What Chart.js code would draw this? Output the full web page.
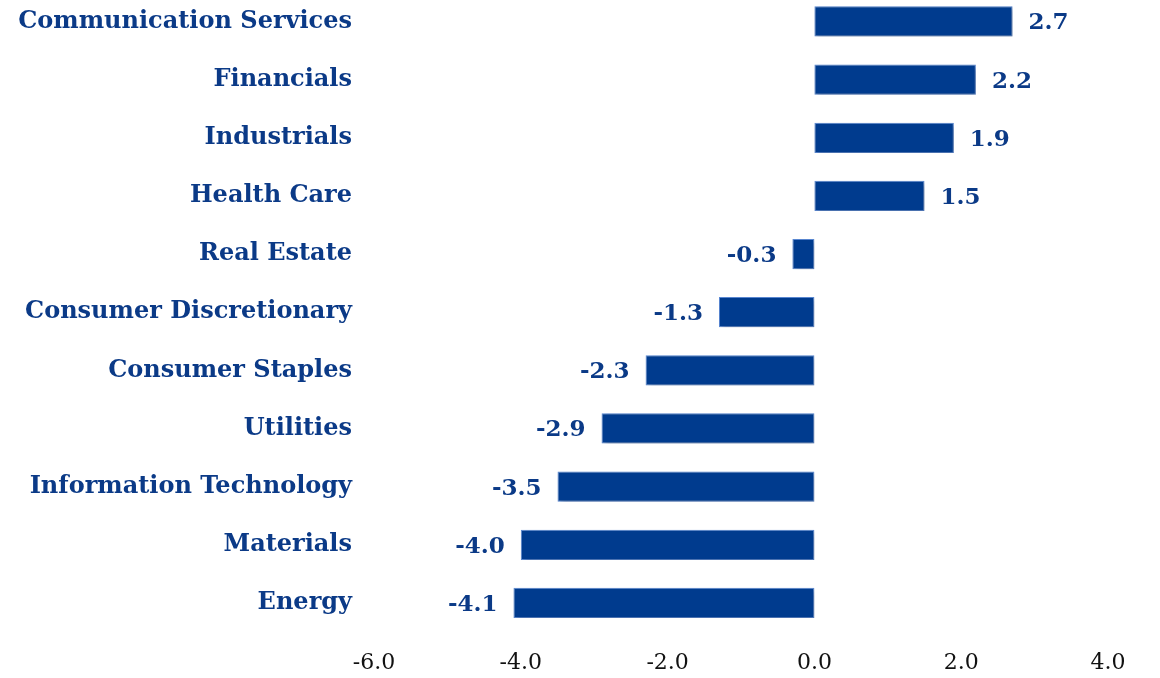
<!DOCTYPE html>
<html>
<head>
<meta charset="utf-8">
<script src="https://cdn.jsdelivr.net/npm/chart.js@4/dist/chart.umd.min.js"></script>
<style>
  html, body { margin: 0; padding: 0; background: #fff; overflow: hidden; }
  #wrap { position: absolute; left: 0; top: -44px; width: 1160px; height: 722px; }
</style>
</head>
<body>
<div id="wrap"><canvas id="chart"></canvas></div>
<script>
// sector contributions, top to bottom
const sectors = [
  "Communication Services", "Financials", "Industrials", "Health Care", "Real Estate",
  "Consumer Discretionary", "Consumer Staples", "Utilities", "Information Technology",
  "Materials", "Energy",
];
const values = [2.7, 2.2, 1.9, 1.5, -0.3, -1.3, -2.3, -2.9, -3.5, -4.0, -4.1];
const xTicks = [-6, -4, -2, 0, 2, 4];

const NAVY = "#003b8e";
const TEXT_BLUE = "#0b3a87";
const SERIF = "'DejaVu Serif', 'Liberation Serif', serif";

// soft shadow under the bars
const barShadow = {
  id: "barShadow",
  beforeDatasetDraw(chart) {
    const ctx = chart.ctx;
    ctx.save();
    ctx.shadowColor = "rgba(0,0,0,0.28)";
    ctx.shadowBlur = 5;
    ctx.shadowOffsetX = 2;
    ctx.shadowOffsetY = 2;
  },
  afterDatasetDraw(chart) {
    chart.ctx.restore();
  },
};

// value labels at the end of each bar
const valueLabels = {
  id: "valueLabels",
  afterDatasetsDraw(chart) {
    const ctx = chart.ctx;
    const meta = chart.getDatasetMeta(0);
    ctx.save();
    ctx.font = "bold 23px " + SERIF;
    ctx.fillStyle = TEXT_BLUE;
    ctx.textBaseline = "middle";
    meta.data.forEach((bar, i) => {
      const v = values[i];
      if (v >= 0) {
        ctx.textAlign = "left";
        ctx.fillText(v.toFixed(1), bar.x + 16, bar.y + 2);
      } else {
        ctx.textAlign = "right";
        ctx.fillText(v.toFixed(1), bar.x - 16, bar.y + 2);
      }
    });
    ctx.restore();
  },
};

new Chart(document.getElementById("chart"), {
  type: "bar",
  data: {
    labels: sectors,
    datasets: [{
      data: values,
      backgroundColor: NAVY,
      borderColor: "#5b8ad6",
      borderWidth: 1,
      borderSkipped: false,
      categoryPercentage: 1,
      barPercentage: 0.52,
    }],
  },
  options: {
    indexAxis: "y",
    responsive: true,
    maintainAspectRatio: false,
    animation: false,
    layout: { padding: { top: 0, right: 52, bottom: 0, left: 0 } },
    plugins: { legend: { display: false }, tooltip: { enabled: false } },
    scales: {
      x: {
        min: -6, max: 4,
        afterBuildTicks: (scale) => { scale.ticks = xTicks.map((v) => ({ value: v })); },
        afterFit: (scale) => { scale.height = 46; },
        border: { display: false },
        grid: { display: false, drawTicks: false },
        ticks: {
          padding: 18,
          color: "#111",
          font: { family: SERIF, size: 22 },
          callback: (v) => Number(v).toFixed(1),
        },
      },
      y: {
        afterFit: (scale) => { scale.width = 374; },
        border: { display: false },
        grid: { display: false, drawTicks: false },
        ticks: {
          padding: 22,
          color: TEXT_BLUE,
          font: { family: SERIF, size: 24, weight: "bold" },
        },
      },
    },
  },
  plugins: [barShadow, valueLabels],
});
</script>
</body>
</html>
